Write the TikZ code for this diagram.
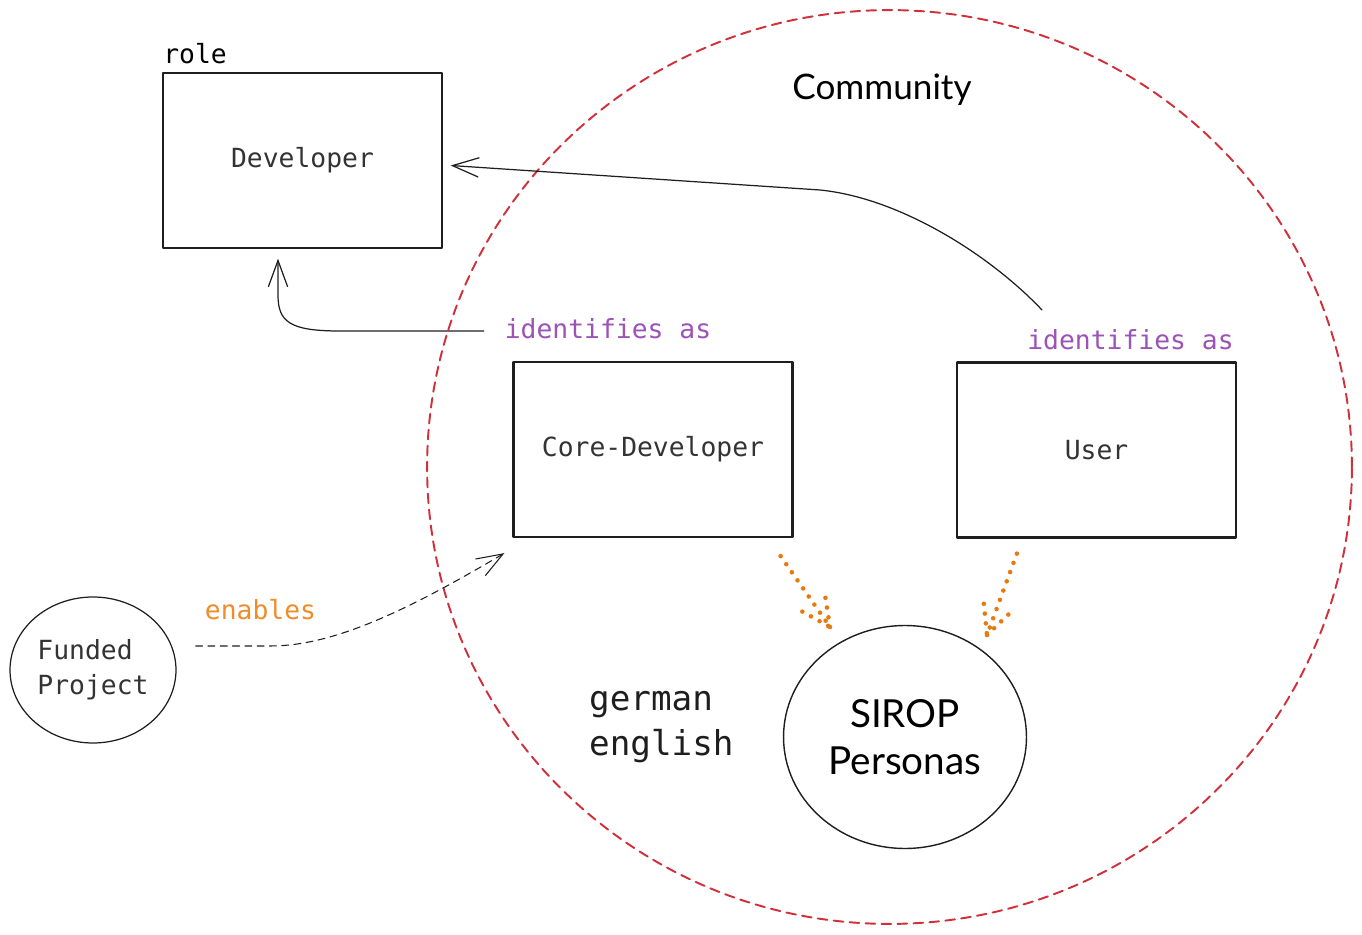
\documentclass[tikz,border=0pt]{standalone}
\usepackage{fontspec}
\setmonofont{DejaVu Sans Mono}
\newfontfamily\handfont{Lato}
\usetikzlibrary{arrows.meta,calc,shapes.geometric}
\definecolor{ink}{HTML}{1E1E1E}
\definecolor{labelgray}{HTML}{333333}
\definecolor{idpurple}{HTML}{9C52B6}
\definecolor{enorange}{HTML}{F08C2A}
\definecolor{dotorange}{HTML}{E8790C}
\definecolor{commred}{HTML}{D0303A}
\tikzset{
  rolebox/.style={draw=ink, line width=0.8pt, minimum width=5.58cm, minimum height=3.5cm, text=labelgray},
  idlabel/.style={text=idpurple},
  orangedot/.style={dotorange, line width=2.6pt, line cap=round, dash pattern=on 0pt off 5.6pt},
}
\begin{document}
\begin{tikzpicture}[x=0.02cm,y=-0.02cm,>={Straight Barb[length=15pt,width=11pt]}, font=\ttfamily\fontsize{15}{20}\selectfont, line join=round, line cap=round]
				\useasboundingbox (0,0) rectangle (1362,935);
				% community
				\draw[commred, line width=1.1pt, dash pattern=on 5.5pt off 3.6pt] (889.5,467) ellipse (9.25cm and 9.14cm);
				\node[font=\handfont\fontsize{20}{24}\selectfont] (comm) at (882,90) {Community};
				% roles
				\node[rolebox] (dev) at (302.5,160.5) {Developer};
				\node[anchor=base west, inner sep=0pt] (role) at (163,64) {role};
				\node[rolebox, line width=1.3pt] (core) at (653,449.5) {Core-Developer};
				\node[rolebox, line width=1.3pt] (user) at (1096.5,450) {User};
				\node[idlabel] (idcore) at (608,329) {identifies as};
				\node[idlabel] (iduser) at (1130.5,340) {identifies as};
				\node[draw=ink, line width=0.7pt, ellipse, minimum width=3.32cm, minimum height=2.92cm, inner sep=0pt, align=left, text=labelgray] (funded) at (93,670) {Funded\\Project};
				\node[text=enorange] (enab) at (260.5,610) {enables};
				\node[draw=ink, line width=0.8pt, ellipse, minimum width=4.86cm, minimum height=4.46cm, inner sep=0pt, align=center, font=\handfont\fontsize{22}{26.6}\selectfont] (sirop) at (905,737) {SIROP\\Personas};
				\node[anchor=west, align=left, text=ink, font=\ttfamily\fontsize{19.5}{26}\selectfont] (lang) at (583,727) {german\\english};
				\path
				(1042,310) coordinate (uTail)
				($(dev.east)+(8,5)$) coordinate (devE)
				($(dev.south)+(-24.5,10)$) coordinate (devS)
				($(idcore.west)+(-15,2)$) coordinate (cTail)
				($(funded.east)+(19,-24)$) coordinate (fTail)
				($(core.south west)+(-8,15)$) coordinate (coreSW)
				($(core.south east)+(-13,18)$) coordinate (cDot)
				($(user.south west)+(61,15)$) coordinate (uDot)
				($(sirop.center)+(-75,-110)$) coordinate (sL)
				($(sirop.center)+(82,-102)$) coordinate (sR)
				;
				\draw[->, ink, line width=0.7pt] (uTail) .. controls (990,255) and (900,198) .. (820,190) -- (devE);
				\draw[->, ink, line width=0.7pt] (cTail) -- (340,331) .. controls (290,331) and (278,322) .. (278,295) -- (devS);
				\draw[->, ink, line width=0.6pt, dash pattern=on 4pt off 3pt] (fTail) -- (270,646) .. controls (330,646) and (400,615) .. (coreSW);
				\foreach \s/\t in {cDot/sL,uDot/sR}
				\draw[orangedot] (\s) -- (\t) -- ($(\t)!0.7cm!26:(\s)$) (\t) -- ($(\t)!0.7cm!-26:(\s)$);
\end{tikzpicture}
\end{document}
